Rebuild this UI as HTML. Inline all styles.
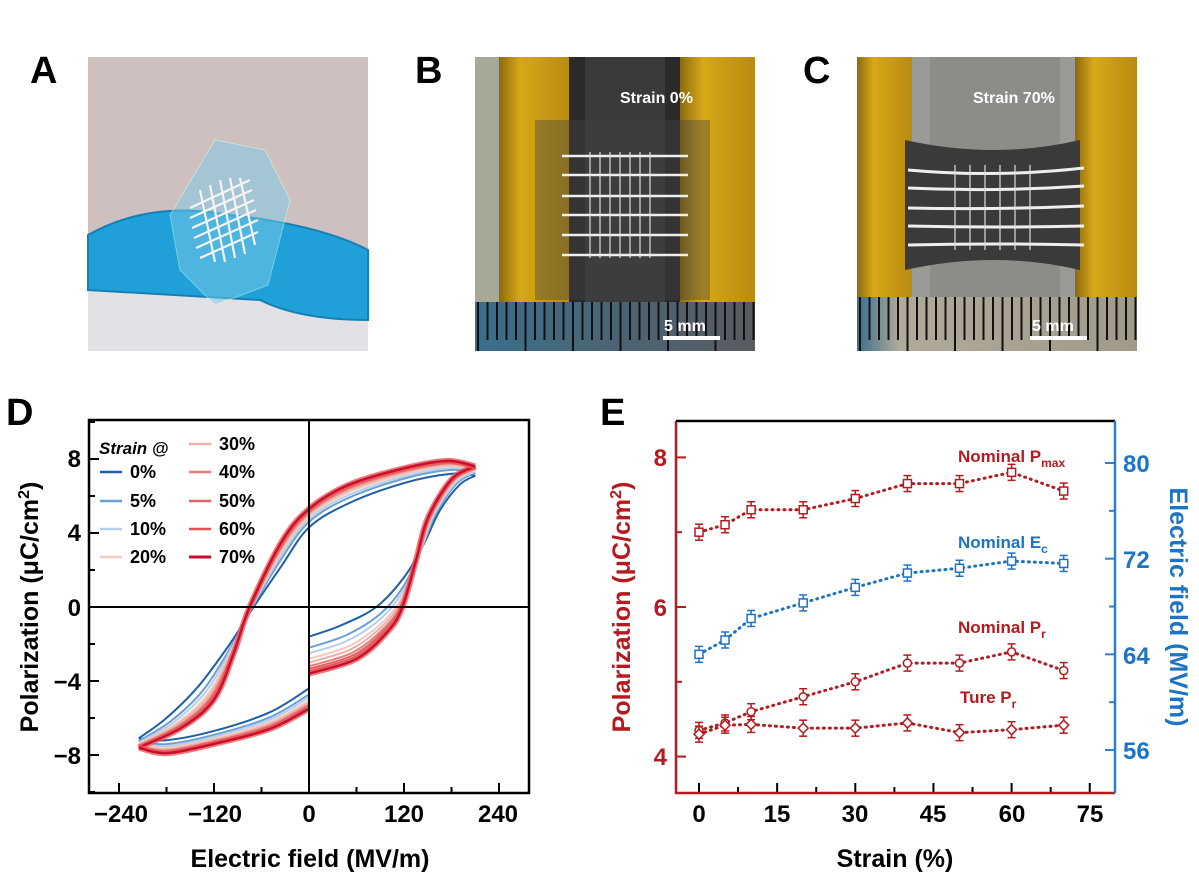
<!DOCTYPE html>
<html><head><meta charset="utf-8">
<style>
html,body{margin:0;padding:0;background:#fff;}
svg text{font-family:"Liberation Sans",Arial,sans-serif;font-weight:bold;}
</style></head>
<body>
<svg id="s" width="1199" height="877" viewBox="0 0 1199 877" xmlns="http://www.w3.org/2000/svg">
<defs>
<linearGradient id="gold" x1="0" x2="1"><stop offset="0" stop-color="#8a6a10"/><stop offset="0.3" stop-color="#d8a818"/><stop offset="1" stop-color="#b88a10"/></linearGradient>
<linearGradient id="ruler" x1="0" x2="1"><stop offset="0" stop-color="#3a6f8a"/><stop offset="1" stop-color="#5a5a60"/></linearGradient>
<linearGradient id="ruler2" x1="0" x2="1"><stop offset="0" stop-color="#3a6f8a"/><stop offset="0.15" stop-color="#b0aa9a"/><stop offset="1" stop-color="#a09a8a"/></linearGradient>
</defs>
<text x="30" y="83" font-size="38">A</text>
<text x="415" y="83" font-size="38">B</text>
<text x="803" y="83" font-size="38">C</text>
<text x="6" y="425" font-size="38">D</text>
<text x="600" y="425" font-size="38">E</text>

<g>
<rect x="88" y="57" width="280" height="294" fill="#cdc0bf"/>
<path d="M88 235 Q150 200 230 215 Q320 225 368 250 L368 320 Q300 320 260 300 L88 290 Z" fill="#1fa0d8"/>
<path d="M88 290 L260 300 Q300 320 368 320 L368 351 L88 351 Z" fill="#e2e2e6"/>
<path d="M88 235 Q150 200 230 215 Q320 225 368 250 L368 320 Q300 320 260 300 L88 290 Z" fill="none" stroke="#1580b8" stroke-width="2"/>
<path d="M215 140 L265 150 L290 200 L268 285 L215 305 L180 270 L170 215 Z" fill="#7ccbe8" opacity="0.5" stroke="#cfe" stroke-width="1"/>
<g stroke="#f4f4f4" stroke-width="2.2">
<line x1="190" y1="208" x2="250" y2="180"/><line x1="190" y1="218" x2="252" y2="190"/><line x1="192" y1="228" x2="254" y2="200"/><line x1="194" y1="238" x2="256" y2="210"/><line x1="196" y1="248" x2="258" y2="220"/><line x1="200" y1="258" x2="258" y2="232"/>
<line x1="200" y1="190" x2="215" y2="262"/><line x1="210" y1="185" x2="225" y2="262"/><line x1="220" y1="180" x2="235" y2="258"/><line x1="230" y1="178" x2="245" y2="254"/><line x1="240" y1="178" x2="255" y2="245"/>
</g>
</g>

<g>
<rect x="475" y="57" width="280" height="294" fill="#b89a40"/>
<rect x="475" y="57" width="24" height="245" fill="#a8a898"/>
<rect x="499" y="57" width="70" height="245" fill="url(#gold)"/>
<rect x="680" y="57" width="75" height="245" fill="url(#gold)"/>
<rect x="569" y="57" width="111" height="245" fill="#2a2a2a"/>
<rect x="585" y="57" width="80" height="245" fill="#3a3a3a"/>
<rect x="535" y="120" width="175" height="180" fill="#444" opacity="0.4"/>
<g stroke="#eee" stroke-width="2.5"><line x1="562" y1="156" x2="688" y2="156"/><line x1="562" y1="175" x2="688" y2="175"/><line x1="562" y1="196" x2="688" y2="196"/><line x1="562" y1="215" x2="688" y2="215"/><line x1="562" y1="235" x2="688" y2="235"/><line x1="562" y1="255" x2="688" y2="255"/></g>
<g stroke="#ddd" stroke-width="1.2"><line x1="590" y1="152" x2="590" y2="258"/><line x1="600" y1="152" x2="600" y2="258"/><line x1="610" y1="152" x2="610" y2="258"/><line x1="620" y1="152" x2="620" y2="258"/><line x1="630" y1="152" x2="630" y2="258"/><line x1="640" y1="152" x2="640" y2="258"/><line x1="650" y1="152" x2="650" y2="258"/></g>
<rect x="475" y="302" width="280" height="49" fill="url(#ruler)"/>
<g id="ticksB" stroke="#111" stroke-width="2"></g>
<text x="620" y="103" font-size="16" fill="#fff">Strain 0%</text>
<text x="664" y="331" font-size="16" fill="#fff">5 mm</text>
<rect x="663" y="336" width="57" height="4" fill="#fff"/>
</g>

<g>
<rect x="857" y="57" width="280" height="294" fill="#c8a020"/>
<rect x="857" y="57" width="55" height="240" fill="url(#gold)"/>
<rect x="1075" y="57" width="62" height="240" fill="url(#gold)"/>
<rect x="912" y="57" width="163" height="240" fill="#9a9a96"/>
<rect x="930" y="57" width="130" height="240" fill="#8c8c88"/>
<path d="M905 140 Q995 160 1080 140 L1080 270 Q995 250 905 270 Z" fill="#3a3a3a"/>
<g stroke="#eee" stroke-width="3"><path d="M908 170 Q995 178 1084 168" fill="none"/><path d="M908 188 Q995 192 1084 186" fill="none"/><path d="M908 208 Q995 210 1084 206" fill="none"/><path d="M908 226 Q995 228 1084 226" fill="none"/><path d="M908 245 Q995 243 1084 245" fill="none"/></g>
<g stroke="#ddd" stroke-width="1.2"><line x1="955" y1="165" x2="955" y2="250"/><line x1="970" y1="165" x2="970" y2="250"/><line x1="985" y1="165" x2="985" y2="250"/><line x1="1000" y1="165" x2="1000" y2="250"/><line x1="1015" y1="165" x2="1015" y2="250"/><line x1="1030" y1="165" x2="1030" y2="250"/></g>
<rect x="857" y="297" width="280" height="54" fill="url(#ruler2)"/>
<g id="ticksC" stroke="#111" stroke-width="2"></g>
<text x="973" y="103" font-size="16" fill="#fff">Strain 70%</text>
<text x="1032" y="331" font-size="16" fill="#fff">5 mm</text>
<rect x="1030" y="336" width="57" height="4" fill="#fff"/>
</g>

<g id="D"></g>
<rect x="89" y="420" width="440" height="373" fill="none" stroke="#000" stroke-width="2.5"/>
<line x1="309" y1="420" x2="309" y2="793" stroke="#000" stroke-width="2"/>
<line x1="89" y1="607" x2="529" y2="607" stroke="#000" stroke-width="2"/>
<g font-size="24" text-anchor="middle">
<text x="121" y="822">−240</text><text x="215" y="822">−120</text><text x="309" y="822">0</text><text x="404" y="822">120</text><text x="498" y="822">240</text>
</g>
<g font-size="24" text-anchor="end">
<text x="81" y="467">8</text><text x="81" y="541">4</text><text x="81" y="616">0</text><text x="81" y="690">−4</text><text x="81" y="764">−8</text>
</g>
<text x="310" y="867" font-size="25" text-anchor="middle">Electric field (MV/m)</text>
<text transform="translate(38,607) rotate(-90)" font-size="25" text-anchor="middle">Polarization (μC/cm<tspan dy="-9" font-size="16">2</tspan><tspan dy="9">)</tspan></text>
<g id="leg" font-size="18"></g>
<text x="99" y="454" font-size="17" font-style="italic">Strain @</text>

<g id="E"></g>
<path d="M676 421 L676 793 L1115 793" fill="none" stroke="#b51a1f" stroke-width="2.5"/>
<line x1="676" y1="421" x2="1115" y2="421" stroke="#000" stroke-width="2.5"/>
<line x1="1115" y1="421" x2="1115" y2="793" stroke="#2a7fd0" stroke-width="2.5"/>
<g font-size="24" text-anchor="middle">
<text x="699" y="822">0</text><text x="777" y="822">15</text><text x="855" y="822">30</text><text x="933" y="822">45</text><text x="1012" y="822">60</text><text x="1090" y="822">75</text>
</g>
<g font-size="24" text-anchor="end" fill="#b51a1f">
<text x="667" y="466">8</text><text x="667" y="616">6</text><text x="667" y="765">4</text>
</g>
<g font-size="24" fill="#1d73c4">
<text x="1123" y="472">80</text><text x="1123" y="568">72</text><text x="1123" y="664">64</text><text x="1123" y="759">56</text>
</g>
<text x="895" y="867" font-size="25" text-anchor="middle">Strain (%)</text>
<text transform="translate(630,607) rotate(-90)" font-size="25" text-anchor="middle" fill="#b51a1f">Polarization (μC/cm<tspan dy="-9" font-size="16">2</tspan><tspan dy="9">)</tspan></text>
<text transform="translate(1170,607) rotate(90)" font-size="25" text-anchor="middle" fill="#1d73c4">Electric field (MV/m)</text>
<g font-size="17">
<text x="958" y="462" fill="#b51a1f">Nominal P<tspan dy="5" font-size="12">max</tspan></text>
<text x="958" y="548" fill="#1d73c4">Nominal E<tspan dy="5" font-size="12">c</tspan></text>
<text x="958" y="633" fill="#b51a1f">Nominal P<tspan dy="5" font-size="12">r</tspan></text>
<text x="960" y="703" fill="#b51a1f">Ture P<tspan dy="5" font-size="12">r</tspan></text>
</g>
</svg>
<script>
var NS="http://www.w3.org/2000/svg";
function el(p,t,a){var e=document.createElementNS(NS,t);for(var k in a)e.setAttribute(k,a[k]);p.appendChild(e);return e;}
var tb=document.getElementById('ticksB');for(var x=478;x<755;x+=9.5)el(tb,'line',{x1:x,y1:302,x2:x,y2:(Math.round((x-478)/9.5)%5==0?351:340)});
var tc=document.getElementById('ticksC');for(var x=860;x<1137;x+=9.5)el(tc,'line',{x1:x,y1:297,x2:x,y2:(Math.round((x-860)/9.5)%5==0?351:340)});
var D=document.getElementById('D');
function mx(E){return 309+E*95/120;}function my(P){return 607-P*18.5;}
var A0=[[[0,-1.6],[40,-1.0],[85,0],[120,1.6],[145,3.4],[165,5.2],[190,6.6],[210,7.1]],
[[210,7.1],[180,7.2],[120,6.7],[50,5.6],[0,4.3],[-35,2.2],[-70,0],[-100,-2],[-140,-4.3],[-180,-6],[-215,-7.1]],
[[-215,-7.1],[-180,-7.2],[-120,-6.7],[-50,-5.7],[0,-4.4]]];
var A7=[[[0,-3.6],[60,-2.8],[100,-1.3],[118,0],[135,2.5],[150,4.8],[180,6.9],[210,7.6]],
[[210,7.6],[175,7.9],[120,7.5],[50,6.6],[0,5.3],[-35,3.5],[-75,0],[-95,-2.5],[-120,-5],[-160,-6.5],[-215,-7.6]],
[[-215,-7.6],[-180,-7.9],[-120,-7.4],[-50,-6.6],[0,-5.5]]];
function cr(pts){var d='M'+pts[0][0]+' '+pts[0][1];for(var i=0;i<pts.length-1;i++){var p0=pts[i-1]||pts[i],p1=pts[i],p2=pts[i+1],p3=pts[i+2]||p2;
d+=' C'+(p1[0]+(p2[0]-p0[0])/6)+' '+(p1[1]+(p2[1]-p0[1])/6)+' '+(p2[0]-(p3[0]-p1[0])/6)+' '+(p2[1]-(p3[1]-p1[1])/6)+' '+p2[0]+' '+p2[1];}return d;}
var ser=[[0,'#1f5fa8',2],[0.3,'#6a9fd6',2],[0.45,'#b8cfea',2],[0.6,'#f2cbbf',2],[0.7,'#eeb0a8',2],[0.8,'#e27f7a',2],[0.87,'#e06262',2],[0.93,'#e05050',2],[1,'#c8102e',2.5]];
ser.forEach(function(s){var t=s[0];for(var b=0;b<3;b++){var pts=A0[b].map(function(p,i){var q=A7[b][i];return [mx(p[0]+(q[0]-p[0])*t),my(p[1]+(q[1]-p[1])*t)];});
if(t==1)el(D,'path',{d:cr(pts),fill:'none',stroke:'#ee5a5a','stroke-width':6,opacity:0.8});
el(D,'path',{d:cr(pts),fill:'none',stroke:s[1],'stroke-width':s[2]});}});
var L=document.getElementById('leg');
var lab=['0%','5%','10%','20%','30%','40%','50%','60%','70%'];
var pos=[[100,478],[100,507],[100,535],[100,563],[189,450],[189,478],[189,507],[189,535],[189,563]];
lab.forEach(function(l,i){var p=pos[i];el(L,'line',{x1:p[0],y1:p[1]-6,x2:p[0]+22,y2:p[1]-6,stroke:ser[i][1],'stroke-width':i==8?3:2.5});var t=el(L,'text',{x:p[0]+30,y:p[1]});t.textContent=l;});
var E=document.getElementById('E');
function ex(s){return 699+s*5.21;}function ey(P){return 607-(P-6)*74.8;}function ry(v){return 463+(80-v)*11.96;}
for(var s=0;s<=75;s+=7.5){el(E,'line',{x1:ex(s),y1:793,x2:ex(s),y2:s%15==0?783:787,stroke:'#000','stroke-width':2});}
for(var P=4;P<=8;P+=1){el(E,'line',{x1:676,y1:ey(P),x2:P%2==0?686:682,y2:ey(P),stroke:'#b51a1f','stroke-width':2});}
for(var v=56;v<=80;v+=4){el(E,'line',{x1:1115,y1:ry(v),x2:v%8==0?1105:1109,y2:ry(v),stroke:'#2a7fd0','stroke-width':2});}
for(var e=-240;e<=240;e+=60){el(D,'line',{x1:mx(e),y1:793,x2:mx(e),y2:e%120==0?783:787,stroke:'#000','stroke-width':2});}
for(var p=-10;p<=10;p+=2){el(D,'line',{x1:89,y1:my(p),x2:p%4==0?99:95,y2:my(p),stroke:'#000','stroke-width':2});}
var S=[0,5,10,20,30,40,50,60,70];
var data=[[[7.0,7.1,7.3,7.3,7.45,7.65,7.65,7.8,7.55],'#b51a1f',ey,'sq'],
[[64,65.2,67,68.3,69.6,70.8,71.2,71.8,71.6],'#1d73c4',ry,'sq'],
[[4.35,4.45,4.6,4.8,5.0,5.25,5.25,5.4,5.15],'#b51a1f',ey,'ci'],
[[4.3,4.42,4.43,4.38,4.38,4.45,4.32,4.36,4.42],'#b51a1f',ey,'di']];
data.forEach(function(d){var pts=S.map(function(s,i){return ex(s)+','+d[2](d[0][i]);}).join(' ');
el(E,'polyline',{points:pts,fill:'none',stroke:d[1],'stroke-width':3,'stroke-dasharray':'1 5','stroke-linecap':'round'});
S.forEach(function(s,i){var x=ex(s),y=d[2](d[0][i]);
el(E,'line',{x1:x,y1:y-8,x2:x,y2:y+8,stroke:d[1],'stroke-width':1.5});
el(E,'line',{x1:x-4,y1:y-8,x2:x+4,y2:y-8,stroke:d[1],'stroke-width':1.5});
el(E,'line',{x1:x-4,y1:y+8,x2:x+4,y2:y+8,stroke:d[1],'stroke-width':1.5});
if(d[3]=='sq')el(E,'rect',{x:x-4,y:y-4,width:8,height:8,fill:'#fff',stroke:d[1],'stroke-width':1.5});
else if(d[3]=='ci')el(E,'circle',{cx:x,cy:y,r:4,fill:'#fff',stroke:d[1],'stroke-width':1.5});
else el(E,'path',{d:'M'+(x-5)+' '+y+' L'+x+' '+(y-5)+' L'+(x+5)+' '+y+' L'+x+' '+(y+5)+' Z',fill:'#fff',stroke:d[1],'stroke-width':1.5});});});
</script>
</body></html>
